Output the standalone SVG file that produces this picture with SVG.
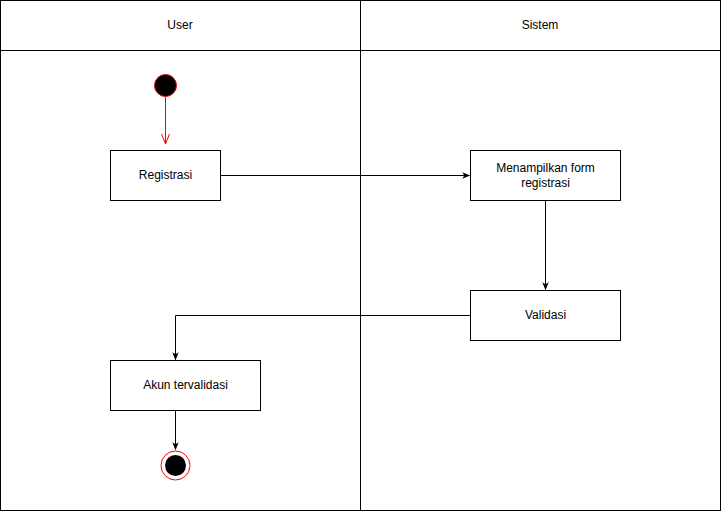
<svg xmlns="http://www.w3.org/2000/svg" width="722" height="511" viewBox="0 0 722 511">
<defs>
<style>
.box{fill:#fff;stroke:#000;stroke-width:1}
.t{font-family:"Liberation Sans",Arial,sans-serif;font-size:12px;fill:#000;text-anchor:middle}
.e{fill:none;stroke:#000;stroke-width:1}
</style>
<marker id="ah" viewBox="0 0 10 10" refX="9" refY="5" markerWidth="8" markerHeight="8" markerUnits="userSpaceOnUse" orient="auto">
<path d="M0,1 L10,5 L0,9 L2.5,5 Z" fill="#000"/>
</marker>
<marker id="ahr" viewBox="0 0 10 10" refX="10" refY="5" markerWidth="10" markerHeight="10" markerUnits="userSpaceOnUse" orient="auto">
<path d="M0,1 L10,5 L0,9" fill="none" stroke="#ff0000" stroke-width="1"/>
</marker>
</defs>
<rect width="722" height="511" fill="#fff"/>
<g id="lanes">
<rect x="0.5" y="0.5" width="360" height="510" class="box"/>
<rect x="360.5" y="0.5" width="360" height="510" class="box"/>
<line x1="0.5" y1="50.5" x2="720.5" y2="50.5" stroke="#000"/>
<text x="180" y="29" class="t">User</text>
<text x="540" y="29" class="t">Sistem</text>
</g>
<g id="connectors">
<path d="M165.5,97 L165.5,144" fill="none" stroke="#ff0000" marker-end="url(#ahr)"/>
<path d="M220.5,175.5 L469.5,175.5" class="e" marker-end="url(#ah)"/>
<path d="M545.5,200.5 L545.5,289.5" class="e" marker-end="url(#ah)"/>
<path d="M470.5,315.5 L175.5,315.5 L175.5,359.5" class="e" marker-end="url(#ah)"/>
<path d="M175.5,410.5 L175.5,449.5" class="e" marker-end="url(#ah)"/>
</g>
<g id="start">
<circle cx="165.5" cy="85.5" r="11" fill="#000" stroke="#ff0000" stroke-width="1"/>
</g>
<g id="registrasi">
<rect x="110.5" y="150.5" width="110" height="50" class="box"/>
<text x="165.5" y="179" class="t">Registrasi</text>
</g>
<g id="menampilkan">
<rect x="470.5" y="150.5" width="150" height="50" class="box"/>
<text x="545.5" y="172" class="t">Menampilkan form</text>
<text x="545.5" y="187" class="t">registrasi</text>
</g>
<g id="validasi">
<rect x="470.5" y="290.5" width="150" height="50" class="box"/>
<text x="545.5" y="319" class="t">Validasi</text>
</g>
<g id="akun">
<rect x="110.5" y="360.5" width="150" height="50" class="box"/>
<text x="185.5" y="389" class="t">Akun tervalidasi</text>
</g>
<g id="end">
<circle cx="175.5" cy="465.5" r="14.5" fill="#fff" stroke="#ff0000" stroke-width="1"/>
<circle cx="175.5" cy="465.5" r="10.5" fill="#000"/>
</g>
</svg>
